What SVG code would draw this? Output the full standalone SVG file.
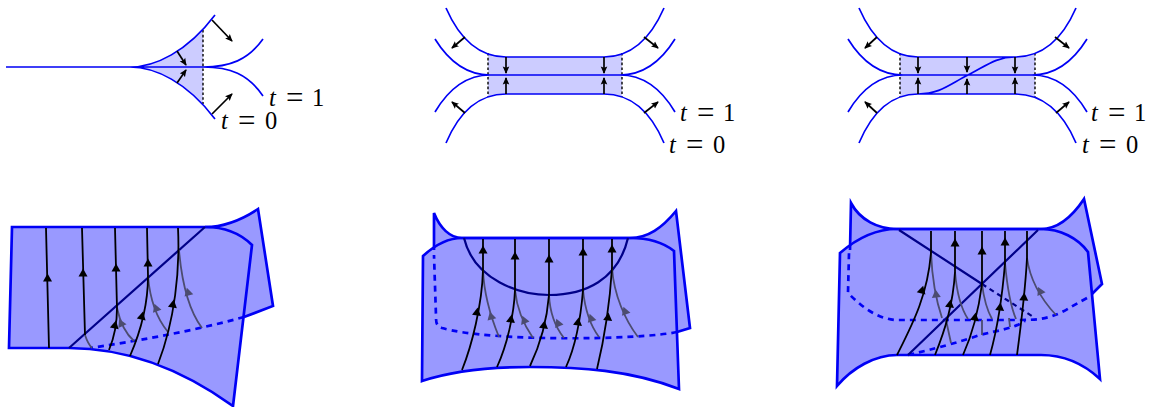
<svg xmlns="http://www.w3.org/2000/svg" width="1151" height="407" viewBox="0 0 1151 407">
<style>
.c{fill:none;stroke:#0000f5;stroke-width:1.7}
.sh{fill:#ccccff;stroke:none}
.ds{fill:none;stroke:#000;stroke-width:1.4;stroke-dasharray:2.6 2.2}
.a{fill:none;stroke:#000;stroke-width:1.7}
.s{fill:#9999ff;stroke:none}
.e{fill:none;stroke:#0000f5;stroke-width:2.7;stroke-linejoin:miter}
.d{fill:none;stroke:#0000f5;stroke-width:2.7;stroke-dasharray:6 5}
.n{fill:none;stroke:#000088;stroke-width:2.2}
.nd{fill:none;stroke:#000088;stroke-width:2.2;stroke-dasharray:5 4}
.k{fill:none;stroke:#000;stroke-width:1.8}
.g{fill:none;stroke:#4c4c70;stroke-width:1.8}
.hk{fill:#000}
.hg{fill:#4c4c70}
text{font-family:"Liberation Serif",serif;font-size:24.5px;fill:#000}
.i{font-style:italic}
.q{font-size:31px}
</style>
<defs>
<marker id="m" viewBox="0 0 8 8" refX="7" refY="4" markerWidth="7.500" markerHeight="7.500" markerUnits="userSpaceOnUse" orient="auto"><path d="M0,0.5L8,4L0,7.5L1.5,4Z" fill="#000"/></marker>
<path id="h" d="M0,-4.500L4.500,3.500L-4.500,3.500Z"/>
<clipPath id="c1"><rect x="100" y="0" width="103" height="130"/></clipPath>
<clipPath id="c2"><rect x="488" y="0" width="134" height="150"/></clipPath>
<clipPath id="c3"><rect x="900" y="0" width="135" height="150"/></clipPath>
</defs>

<g id="panel-top-1">
<path class="sh" clip-path="url(#c1)" d="M130,67C155,67 187,52 215,15L215,119C187,82 155,67 130,67Z"/>
<path class="ds" d="M203,30V104"/>
<path class="c" d="M6,67H203M130,67C155,67 187,52 215,15M130,67C155,67 187,82 215,119M203,67C230,67 248,60 263,39M203,67C230,67 248,74 263,96"/>
<g id="arrows-1" class="a">
<path marker-end="url(#m)" d="M212,20L232,41"/><path marker-end="url(#m)" d="M177,51L186,65"/><path marker-end="url(#m)" d="M177,83L186,70"/><path marker-end="url(#m)" d="M212,114L232,94"/>
</g>
<text x="269" y="105.500"><tspan class="i">t</tspan> <tspan x="286" dy="2.800" class="q">=</tspan> <tspan x="312" dy="-2.800">1</tspan></text>
<text x="221" y="128.500"><tspan class="i">t</tspan> <tspan x="238" dy="2.800" class="q">=</tspan> <tspan x="265" dy="-2.800">0</tspan></text>
</g>

<g id="panel-top-2">
<path class="sh" clip-path="url(#c2)" d="M446,8C460,40 480,57 506,57H604C630,57 650,40 664,8V143C650,110 630,94 604,94H506C480,94 460,110 446,143Z"/>
<path class="ds" d="M488,53V97M622,53V97"/>
<path class="c" d="M446,8C460,40 480,57 506,57H604C630,57 650,40 664,8M435,39C448,60 465,75 490,75H620C645,75 662,60 675,39M435,112C448,90 465,75 490,75M620,75C645,75 662,90 675,112M446,143C460,110 480,94 506,94H604C630,94 650,110 664,143"/>
<g class="a">
<path marker-end="url(#m)" d="M465,37L452,48"/><path marker-end="url(#m)" d="M644,37L658,48"/><path marker-end="url(#m)" d="M465,113L452,102"/><path marker-end="url(#m)" d="M644,113L658,102"/>
<path marker-end="url(#m)" d="M506,57V73"/><path marker-end="url(#m)" d="M604,57V73"/><path marker-end="url(#m)" d="M506,94V78"/><path marker-end="url(#m)" d="M604,94V78"/>
</g>
<text x="680" y="120.500"><tspan class="i">t</tspan> <tspan x="697" dy="2.800" class="q">=</tspan> <tspan x="723" dy="-2.800">1</tspan></text>
<text x="669" y="152.500"><tspan class="i">t</tspan> <tspan x="686" dy="2.800" class="q">=</tspan> <tspan x="713" dy="-2.800">0</tspan></text>
</g>

<g id="panel-top-3">
<path class="sh" clip-path="url(#c3)" d="M859,8C873,40 893,57 918,57H1015C1042,57 1062,40 1076,8V143C1062,110 1042,94 1015,94H918C893,94 873,110 859,143Z"/>
<path class="ds" d="M900,53V97M1035,53V97"/>
<path class="c" d="M859,8C873,40 893,57 918,57H1015C1042,57 1062,40 1076,8M848,39C861,60 878,75 903,75H1032C1057,75 1074,60 1087,39M848,112C861,90 878,75 903,75M1032,75C1057,75 1074,90 1087,112M859,143C873,110 893,94 918,94H1015C1042,94 1062,110 1076,143M918,94C940,94 950,84 968,75C986,66 996,57 1015,57"/>
<g class="a">
<path marker-end="url(#m)" d="M877,37L865,48"/><path marker-end="url(#m)" d="M1055,37L1069,48"/><path marker-end="url(#m)" d="M877,113L865,102"/><path marker-end="url(#m)" d="M1056,113L1069,102"/>
<path marker-end="url(#m)" d="M918,57V73"/><path marker-end="url(#m)" d="M967,57V72"/><path marker-end="url(#m)" d="M1015,57V73"/><path marker-end="url(#m)" d="M918,94V78"/><path marker-end="url(#m)" d="M967,94V79"/><path marker-end="url(#m)" d="M1015,94V78"/>
</g>
<text x="1091" y="120.500"><tspan class="i">t</tspan> <tspan x="1108" dy="2.800" class="q">=</tspan> <tspan x="1134" dy="-2.800">1</tspan></text>
<text x="1082" y="152.500"><tspan class="i">t</tspan> <tspan x="1099" dy="2.800" class="q">=</tspan> <tspan x="1126" dy="-2.800">0</tspan></text>
</g>

<g id="panel-bottom-1">
<path class="s" d="M12,227H205C225,227 243,219 258,209L273,306L244,317C190,332 130,342 69,348H9Z"/>
<path class="s" d="M69,348C125,348 180,368 233,406L252,245C240,233 225,227 205,227Z"/>
<path class="e" d="M69,348H9L12,227H205C225,227 243,219 258,209L273,306L244,317"/>
<path class="d" d="M244,317C190,332 130,342 90,348"/>
<path class="e" d="M69,348C125,348 180,368 233,406L252,245C240,233 225,227 205,227"/>
<path class="n" d="M205,227L69,348"/>
<g id="flow-1">
<path class="g" d="M85,335C87,341 89,345 92,348M117,308C120,322 126,334 134,341M148,276C150,300 158,320 168,332M179,250C182,285 190,312 202,328"/>
<path class="k" d="M46,228L49,348M82,228L85,335M115,228L117,308C117,325 114,338 109,350M147,228L148,276C148,305 140,333 130,356M178,228C180,270 175,320 158,364"/>
<use href="#h" class="hk" transform="translate(47.500,278)"/><use href="#h" class="hk" transform="translate(83,273)"/><use href="#h" class="hk" transform="translate(116,268)"/><use href="#h" class="hk" transform="translate(148,263)"/>
<use href="#h" class="hk" transform="translate(115,325) rotate(12)"/><use href="#h" class="hk" transform="translate(142,316) rotate(13)"/><use href="#h" class="hk" transform="translate(173,304) rotate(10)"/>
<use href="#h" class="hg" transform="translate(121,323) rotate(-25)"/><use href="#h" class="hg" transform="translate(156,308) rotate(-20)"/><use href="#h" class="hg" transform="translate(188,292) rotate(-15)"/>
</g>
</g>

<g id="panel-bottom-2">
<path class="s" d="M434,213C440,228 450,238 462,238H630C648,238 662,228 676,211L690,328C650,340 480,345 437,325Z"/>
<path class="s" d="M423,256C435,245 448,238 462,238H630C650,238 664,243 674,251L679,389C630,370 580,367 530,367C490,367 455,370 422,381Z"/>
<path class="e" d="M434,250V213C440,228 450,238 462,238H630C648,238 662,228 676,211L690,328L677,332"/>
<path class="d" d="M677,332C640,340 490,342 442,328C436,326 436,322 436,316L434,255"/>
<path class="e" d="M423,256C435,245 448,238 462,238H630C650,238 664,243 674,251L679,389C630,370 580,367 530,367C490,367 455,370 422,381Z"/>
<path class="n" d="M464,238C474,280 520,295 549,295C585,295 618,280 628,238"/>
<g id="flow-2">
<path class="g" d="M483,270C484,295 492,320 499,337M515,290C517,310 524,325 533,338M549,295C550,315 556,328 564,338M583,290C585,310 590,325 599,337M612,268C614,295 625,320 638,337"/>
<path class="k" d="M483,239V270C482,305 472,345 462,370M515,239V290C514,315 507,345 497,367M549,239V295C547,320 540,345 530,366M583,239V290C581,315 576,345 566,367M612,239V268C610,300 604,340 597,369"/>
<use href="#h" class="hk" transform="translate(483,250)"/><use href="#h" class="hk" transform="translate(515,256)"/><use href="#h" class="hk" transform="translate(549,259)"/><use href="#h" class="hk" transform="translate(583,252)"/><use href="#h" class="hk" transform="translate(612,249)"/>
<use href="#h" class="hk" transform="translate(477,312) rotate(8)"/><use href="#h" class="hk" transform="translate(511,319) rotate(8)"/><use href="#h" class="hk" transform="translate(544,325) rotate(8)"/><use href="#h" class="hk" transform="translate(578,322) rotate(8)"/><use href="#h" class="hk" transform="translate(608,317) rotate(6)"/>
<use href="#h" class="hg" transform="translate(491,316) rotate(-15)"/><use href="#h" class="hg" transform="translate(524,320) rotate(-22)"/><use href="#h" class="hg" transform="translate(558,323) rotate(-22)"/><use href="#h" class="hg" transform="translate(591,318) rotate(-18)"/><use href="#h" class="hg" transform="translate(625,311) rotate(-20)"/>
</g>
</g>

<g id="panel-bottom-3">
<path class="s" d="M851,203C860,220 878,229 897,229H1041C1058,229 1072,217 1084,199L1102,284L1092,294L1055,315L900,322L848,293Z"/>
<path class="s" d="M840,253C855,240 875,229 897,229H1041C1060,229 1078,238 1088,252L1100,379C1085,365 1065,355 1041,355H897C875,355 852,368 837,386Z"/>
<path class="e" d="M850,250L851,203C860,220 878,229 897,229H1041C1058,229 1072,217 1084,199L1102,284L1092,294"/>
<path class="d" d="M1087,298C1072,306 1062,313 1055,315C1045,319 1035,320 1020,320H895C875,318 860,305 848,293L849,253"/>
<path class="d" d="M908,355C950,345 965,340 980,335C1000,330 1015,328 1025,321"/>
<path class="nd" d="M982,284L1035,318"/>
<path class="e" d="M840,253C855,240 875,229 897,229H1041C1060,229 1078,238 1088,252L1100,379C1085,365 1065,355 1041,355H897C875,355 852,368 837,386Z"/>
<path class="n" d="M899,230L982,284M1038,230L908,355"/>
<g id="flow-3">
<path class="g" d="M931,252C932,280 936,300 942,318M946,320L951,343M955,272C957,295 962,310 968,319M982,284C984,300 987,310 992,319M982,320V335M1005,263C1007,285 1010,305 1016,319M1009,318L1010,327M1027,258C1030,280 1042,300 1056,315"/>
<path class="k" d="M931,231V252C928,295 912,325 897,355M955,231V272C953,305 945,330 935,355M982,231V284C978,315 972,335 963,355M1005,231V263C1002,300 997,330 990,355M1027,231V258C1025,295 1021,325 1017,355"/>
<use href="#h" class="hk" transform="translate(955,243)"/><use href="#h" class="hk" transform="translate(982,251)"/><use href="#h" class="hk" transform="translate(1005,242)"/>
<use href="#h" class="hk" transform="translate(922,290) rotate(15)"/><use href="#h" class="hk" transform="translate(950,304) rotate(8)"/><use href="#h" class="hk" transform="translate(975,317) rotate(10)"/><use href="#h" class="hk" transform="translate(1000,307) rotate(6)"/><use href="#h" class="hk" transform="translate(1024,297) rotate(4)"/>
<use href="#h" class="hg" transform="translate(936,294) rotate(-6)"/><use href="#h" class="hg" transform="translate(1040,291) rotate(-25)"/>
</g>
</g>
</svg>
